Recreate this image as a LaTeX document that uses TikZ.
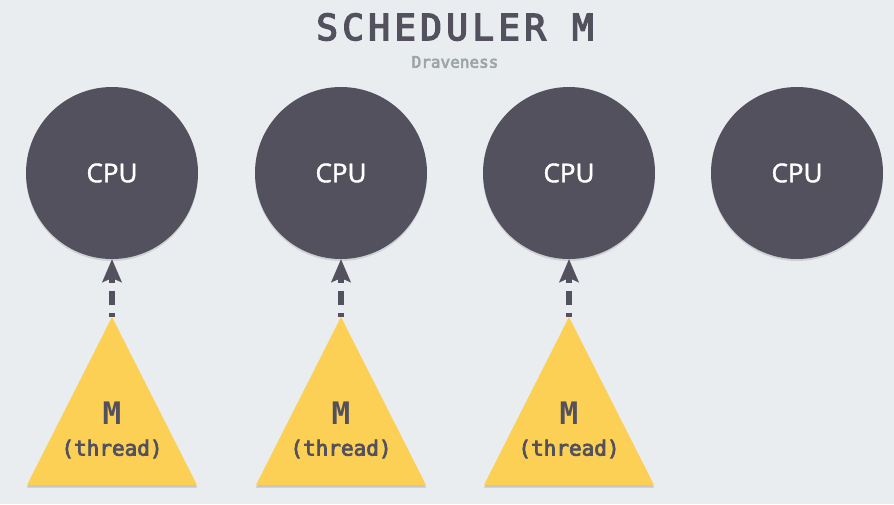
\documentclass[tikz,border=0pt]{standalone}
\usepackage{fontspec}
\usetikzlibrary{arrows.meta,shadows}
\newfontfamily\titlefont[LetterSpace=12,FakeBold=4]{DejaVu Sans Mono}
\newfontfamily\monomed[FakeBold=3.5]{DejaVu Sans Mono}
\newfontfamily\monob{DejaVu Sans Mono}
\newfontfamily\cpufont[FakeBold=1.5]{Open Sans}
\definecolor{bg}{HTML}{E9EDF0}
\definecolor{cpucol}{HTML}{54515F}
\definecolor{tricol}{HTML}{FCCF55}
\definecolor{subcol}{HTML}{9CA4A6}
\tikzset{
  cpu/.style={circle, fill=cpucol, minimum size=172pt, inner sep=0pt, outer sep=0pt,
    text=white, font=\cpufont\fontsize{26}{28}\selectfont,
    drop shadow={shadow xshift=0pt, shadow yshift=-2pt, opacity=0.25}},
  tri/.style={fill=tricol, drop shadow={shadow xshift=0pt, shadow yshift=-2.5pt, opacity=0.35}},
  mtext/.style={text=cpucol, font=\monob\bfseries\fontsize{31}{33}\selectfont, inner sep=0pt},
  ttext/.style={text=cpucol, font=\monomed\fontsize{21}{23}\selectfont, inner sep=0pt},
  link/.style={draw=cpucol, line width=6.5pt, dash pattern=on 14pt off 8pt, dash phase=10pt,
    -{Stealth[length=23pt,width=19pt,inset=4pt]}},
}
\begin{document}
\begin{tikzpicture}[x=1pt,y=-1pt]
\useasboundingbox[fill=bg] (0,0) rectangle (894,504);
\node[text=cpucol, font=\titlefont\fontsize{36}{40}\selectfont, inner sep=0pt] (title) at (455,27) {SCHEDULER M};
\node[text=subcol, font=\monomed\fontsize{16}{18}\selectfont, inner sep=0pt] (author) at (455,62) {Draveness};
\foreach \i/\x in {1/112,2/341,3/569,4/797}{
  \node[cpu] (c\i) at (\x,173) {CPU};
}
\foreach \i/\x in {1/112,2/341,3/569}{
  \fill[tri] (\x,317) -- (\x+85,485) -- (\x-85,485) -- cycle;
  \coordinate (a\i) at (\x,317);
  \node[mtext] (m\i) at (\x,413) {M};
  \node[ttext] (t\i) at (\x,449) {(thread)};
  \draw[link] (a\i) -- (c\i.south);
}
\end{tikzpicture}
\end{document}
